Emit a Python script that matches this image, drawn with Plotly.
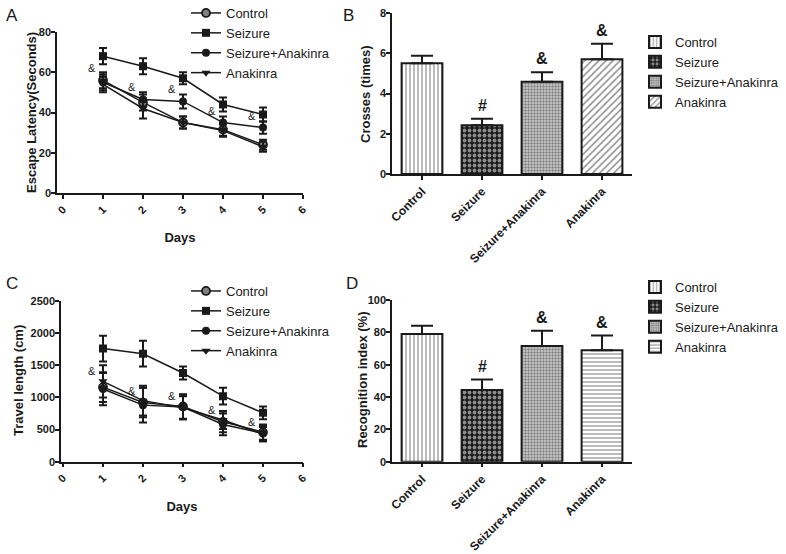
import plotly.graph_objects as go

W, H = 786, 554

days = [1, 2, 3, 4, 5]
day_ticks = [0, 1, 2, 3, 4, 5, 6]
groups = ["Control", "Seizure", "Seizure+Anakinra", "Anakinra"]

# Panel A: escape latency (seconds)
esc_control = [56, 45, 35, 31.5, 24]
esc_control_err = [4, 4, 3, 3, 2.5]
esc_seizure = [68, 63, 57, 44, 39]
esc_seizure_err = [4, 4, 3, 3.5, 3.5]
esc_sa = [55, 46.5, 45.5, 35, 32.5]
esc_sa_err = [4, 3.5, 3.5, 3, 3]
esc_ana = [54, 42, 35, 31, 23]
esc_ana_err = [4, 5, 3, 3, 2.5]

# Panel C: travel length (cm)
tl_control = [1160, 920, 860, 620, 460]
tl_control_err = [230, 230, 190, 160, 120]
tl_seizure = [1760, 1680, 1380, 1020, 760]
tl_seizure_err = [200, 200, 100, 130, 100]
tl_sa = [1130, 880, 850, 580, 440]
tl_sa_err = [250, 270, 190, 170, 120]
tl_ana = [1250, 950, 840, 650, 430]
tl_ana_err = [250, 230, 180, 140, 110]

# Panel B: crosses (times)
cross = [5.5, 2.42, 4.58, 5.7]
cross_err = [0.37, 0.33, 0.48, 0.77]
cross_marks = ["", "#", "&", "&"]

# Panel D: recognition index (%)
recog = [79, 44.3, 71.5, 69]
recog_err = [5, 6.5, 9.5, 9]
recog_marks = ["", "#", "&", "&"]

FONT = "Liberation Sans, Arial, sans-serif"
INK = "#1a1a1a"


def px(x):
    return x / W


def py(y):
    return 1 - y / H


fig = go.Figure()

line_styles = [
    dict(symbol="circle", color="#808080", line=dict(color=INK, width=1.8), size=8),
    dict(symbol="square", color=INK, size=8),
    dict(symbol="circle", color=INK, size=8),
    dict(symbol="triangle-down", color=INK, size=8),
]


def add_lines(series, errs, xa, ya, legend):
    for name, ys, es, ms in zip(groups, series, errs, line_styles):
        fig.add_trace(go.Scatter(
            x=days, y=ys, name=name, mode="lines+markers",
            line=dict(color=INK, width=1.5), marker=ms,
            error_y=dict(type="data", array=es, color=INK, thickness=2, width=4),
            xaxis=xa, yaxis=ya, legend=legend,
        ))


add_lines([esc_control, esc_seizure, esc_sa, esc_ana],
          [esc_control_err, esc_seizure_err, esc_sa_err, esc_ana_err], "x", "y", "legend")
add_lines([tl_control, tl_seizure, tl_sa, tl_ana],
          [tl_control_err, tl_seizure_err, tl_sa_err, tl_ana_err], "x3", "y3", "legend3")

bar_patterns_B = [
    dict(shape="|", fgcolor=INK, bgcolor="white", size=4, solidity=0.3),
    dict(shape=".", fgcolor="white", bgcolor=INK, size=5, solidity=0.45),
    dict(shape=".", fgcolor="#333333", bgcolor="#d0d0d0", size=3, solidity=0.5),
    dict(shape="/", fgcolor=INK, bgcolor="white", size=5, solidity=0.3),
]
bar_patterns_D = bar_patterns_B[:3] + [dict(shape="-", fgcolor=INK, bgcolor="white", size=4, solidity=0.3)]


def add_bars(vals, errs, patterns, xa, ya, legend):
    for i, name in enumerate(groups):
        fig.add_trace(go.Bar(
            x=[name], y=[vals[i]], name=name, width=0.68,
            marker=dict(color="white", line=dict(color=INK, width=2), pattern=patterns[i]),
            error_y=dict(type="data", symmetric=False, array=[errs[i]], arrayminus=[0],
                         color=INK, thickness=2, width=11),
            xaxis=xa, yaxis=ya, legend=legend,
        ))


add_bars(cross, cross_err, bar_patterns_B, "x2", "y2", "legend2")
add_bars(recog, recog_err, bar_patterns_D, "x4", "y4", "legend4")

ann = []
# significance marks on bar panels
for vals, errs, marks, xr, yr in [(cross, cross_err, cross_marks, "x2", "y2"),
                                  (recog, recog_err, recog_marks, "x4", "y4")]:
    for g, v, e, m in zip(groups, vals, errs, marks):
        if m:
            ann.append(dict(x=g, y=v + e, xref=xr, yref=yr, text=m, showarrow=False,
                            yanchor="bottom", yshift=3,
                            font=dict(family=FONT, size=16, color=INK, weight="bold")))

# "&" marks on line panels
for series, xr, yr, shift in [((esc_control, esc_sa, esc_ana), "x", "y", 12),
                              ((tl_control, tl_sa, tl_ana), "x3", "y3", 10)]:
    for i, d in enumerate(days):
        top = max(s[i] for s in series)
        ann.append(dict(x=d - 0.28, y=top, xref=xr, yref=yr, text="&", showarrow=False,
                        yshift=shift, font=dict(family=FONT, size=11, color=INK)))

# panel letters
for letter, x, y in [("A", 12, 15), ("B", 348, 15), ("C", 12, 283), ("D", 352, 283)]:
    ann.append(dict(x=px(x), y=py(y), xref="paper", yref="paper", text=letter, showarrow=False,
                    xanchor="center", yanchor="middle",
                    font=dict(family=FONT, size=17, color=INK)))

# y-axis titles
title_font = dict(family=FONT, size=13, color=INK, weight="bold")
for text, x, y in [("Escape Latency(Seconds)", 31, 113), ("Crosses (times)", 366, 94),
                   ("Travel length (cm)", 18, 381), ("Recognition index (%)", 362, 380)]:
    ann.append(dict(x=px(x), y=py(y), xref="paper", yref="paper", text=text, showarrow=False,
                    textangle=-90, xanchor="center", yanchor="middle", font=title_font))

axis_common = dict(showline=True, linecolor=INK, linewidth=1.5, ticks="outside", ticklen=4,
                   tickwidth=1.5, tickcolor=INK, showgrid=False, zeroline=False, automargin=False,
                   tickfont=dict(family=FONT, size=11, color=INK, weight="bold"),
                   title_font=title_font)
yaxis_common = dict(axis_common, ticklabelstandoff=-2)
cat_font = dict(family=FONT, size=12, color=INK, weight="bold")
leg_font = dict(family=FONT, size=13, color=INK)

fig.update_layout(
    width=W, height=H, margin=dict(l=0, r=0, t=0, b=0, autoexpand=False),
    paper_bgcolor="white", plot_bgcolor="white",
    font=dict(family=FONT, color=INK),
    showlegend=True,
    bargap=0.3,
    annotations=ann,
    xaxis=dict(axis_common, domain=[px(57), px(303)], range=[-0.15, 6], tickvals=day_ticks,
               tickangle=-45, anchor="y", title=dict(text="Days", standoff=18)),
    yaxis=dict(yaxis_common, domain=[py(193), py(32)], range=[0, 80], tickvals=[0, 20, 40, 60, 80],
               anchor="x"),
    xaxis2=dict(axis_common, domain=[px(392), px(632)], range=[-0.5, 3.5], type="category",
                tickangle=-45, anchor="y2", tickfont=cat_font),
    yaxis2=dict(yaxis_common, domain=[py(174), py(13)], range=[0, 8], tickvals=[0, 2, 4, 6, 8],
                anchor="x2"),
    xaxis3=dict(axis_common, domain=[px(61), px(303)], range=[-0.05, 6], tickvals=day_ticks,
                tickangle=-45, anchor="y3", title=dict(text="Days", standoff=18)),
    yaxis3=dict(yaxis_common, domain=[py(461.7), py(301)], range=[0, 2500],
                tickvals=[0, 500, 1000, 1500, 2000, 2500], anchor="x3"),
    xaxis4=dict(axis_common, domain=[px(392), px(632)], range=[-0.5, 3.5], type="category",
                tickangle=-45, anchor="y4", tickfont=cat_font),
    yaxis4=dict(yaxis_common, domain=[py(461.7), py(300)], range=[0, 100],
                tickvals=[0, 20, 40, 60, 80, 100], anchor="x4"),
    legend=dict(x=px(186), y=py(-2), xanchor="left", yanchor="top", bgcolor="rgba(0,0,0,0)",
                font=leg_font, tracegroupgap=0),
    legend3=dict(x=px(186), y=py(276), xanchor="left", yanchor="top", bgcolor="rgba(0,0,0,0)",
                 font=leg_font, tracegroupgap=0),
    legend2=dict(x=px(635), y=py(27), xanchor="left", yanchor="top", bgcolor="rgba(0,0,0,0)",
                 font=leg_font, tracegroupgap=0),
    legend4=dict(x=px(635), y=py(272), xanchor="left", yanchor="top", bgcolor="rgba(0,0,0,0)",
                 font=leg_font, tracegroupgap=0),
)

fig.write_html("out.html", config={"displayModeBar": False},
               post_script="document.body.style.margin='0';")
